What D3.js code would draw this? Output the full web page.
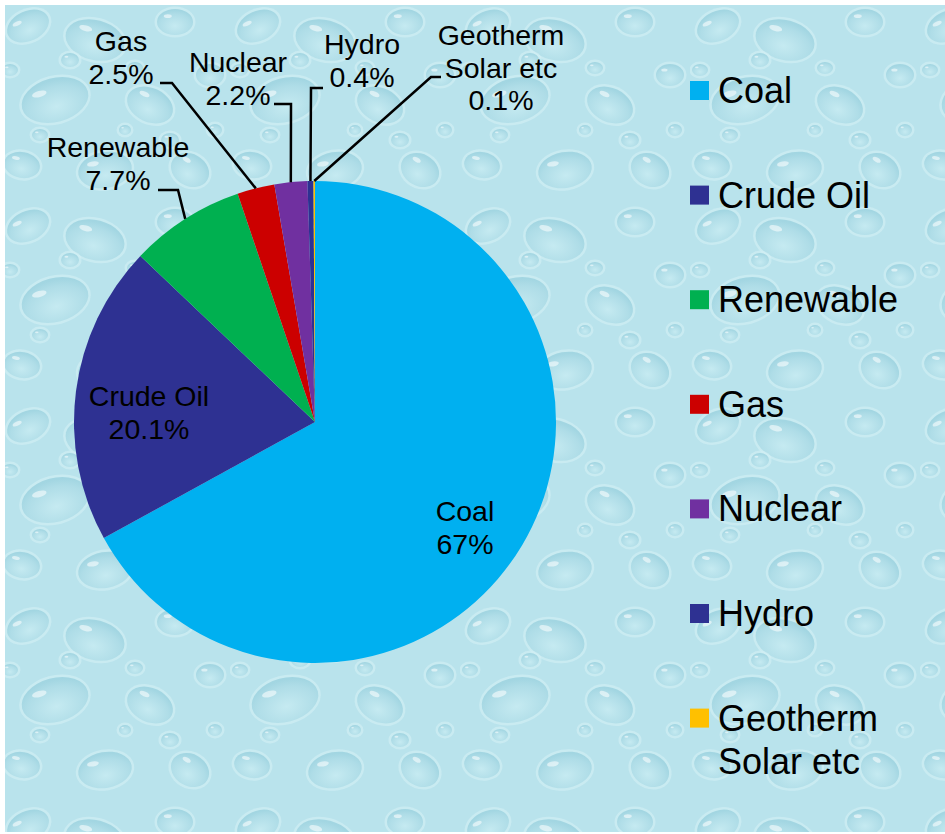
<!DOCTYPE html>
<html>
<head>
<meta charset="utf-8">
<script src="https://cdn.jsdelivr.net/npm/d3@7/dist/d3.min.js"></script>
<style>
  html, body { margin: 0; padding: 0; background: #fff; }
  svg { display: block; }
  text { font-family: "Liberation Sans", Arial, sans-serif; fill: #000; }
</style>
</head>
<body>
<svg id="chart"></svg>
<script>
// Energy share pie with leader labels and legend

const categories = ["Coal", "Crude Oil", "Renewable", "Gas", "Nuclear", "Hydro", "Geotherm Solar etc"];
const shares = [67, 20.1, 7.7, 2.5, 2.2, 0.4, 0.1];
const colors = ["#00b0f0", "#2e3192", "#00b050", "#cc0000", "#7030a0", "#2e3192", "#ffc000"];

// label layout: text lines, centre x, first baseline, optional leader (start, elbow)
const labelLayout = {
  "Coal": { lines: ["Coal"], x: 465, y: 521 },
  "Crude Oil": { lines: ["Crude Oil"], x: 149, y: 406 },
  "Renewable": { lines: ["Renewable"], x: 118, y: 157, leader: [[158, 190], [178, 190]] },
  "Gas": { lines: ["Gas"], x: 121, y: 51, leader: [[160, 83], [172, 83]] },
  "Nuclear": { lines: ["Nuclear"], x: 238, y: 72, leader: [[274, 104], [291, 104]] },
  "Hydro": { lines: ["Hydro"], x: 362, y: 54, leader: [[323, 88], [311, 88]] },
  "Geotherm Solar etc": { lines: ["Geotherm", "Solar etc"], x: 501, y: 45, leader: [[441, 77], [431, 77]] },
};

const width = 945;
const height = 834;
const cx = 315, cy = 422, radius = 241;

const svg = d3.select("#chart").attr("width", width).attr("height", height);

// ----- water-drop background -----
const defs = svg.append("defs");
const grad = defs.append("radialGradient").attr("id", "drop").attr("cx", "50%").attr("cy", "65%").attr("r", "60%");
grad.append("stop").attr("offset", "0%").attr("stop-color", "#c4eaf1");
grad.append("stop").attr("offset", "75%").attr("stop-color", "#a6d8e4");
grad.append("stop").attr("offset", "100%").attr("stop-color", "#96cfdd");

const tile = defs.append("pattern").attr("id", "drops").attr("patternUnits", "userSpaceOnUse")
  .attr("width", 230).attr("height", 200);
tile.append("rect").attr("width", 230).attr("height", 200).attr("fill", "#b9e3ec");
// drop shapes in the tile: x, y, rx, ry, rotation
const drops = [
  [28, 26, 22, 15, -25], [95, 40, 30, 20, 15], [175, 22, 18, 13, 0], [55, 100, 34, 22, -15],
  [150, 105, 24, 17, 25], [210, 75, 14, 11, 0], [22, 165, 18, 13, 10], [105, 170, 27, 18, -10],
  [190, 170, 20, 16, 30], [70, 60, 9, 7, 0], [135, 68, 8, 6, 0], [170, 140, 9, 7, 0], [40, 135, 8, 6, 0],
  [215, 130, 7, 6, 0], [125, 130, 6, 5, 0], [10, 70, 8, 6, 0]
];
drops.forEach(([x, y, rx, ry, rot]) => {
  const g = tile.append("g").attr("transform", `translate(${x},${y}) rotate(${rot})`);
  g.append("ellipse").attr("rx", rx + 2.5).attr("ry", ry + 2.5).attr("fill", "#d3f0f5").attr("opacity", 0.6);
  g.append("ellipse").attr("rx", rx).attr("ry", ry).attr("fill", "url(#drop)").attr("opacity", 0.75);
  g.append("ellipse").attr("cx", -rx * 0.4).attr("cy", -ry * 0.45).attr("rx", rx * 0.22).attr("ry", ry * 0.14)
    .attr("fill", "#fff").attr("opacity", 0.55);
});

svg.append("rect").attr("x", 5).attr("y", 5).attr("width", width - 5).attr("height", height - 7)
  .attr("fill", "url(#drops)");

// ----- pie -----
const data = categories.map((c, i) => ({ name: c, value: shares[i], color: colors[i] }));
const pie = d3.pie().sort(null).value((d) => d.value);
const arcs = pie(data);
const arc = d3.arc().innerRadius(0).outerRadius(radius);
const edgeArc = d3.arc().innerRadius(radius).outerRadius(radius);

const pieG = svg.append("g").attr("transform", `translate(${cx},${cy})`);
pieG.selectAll("path.slice")
  .data(arcs)
  .enter()
  .append("path")
  .attr("class", "slice")
  .attr("d", arc)
  .attr("fill", (d) => d.data.color);

// leader lines from label to slice midpoint on the rim
const leaderG = svg.append("g");
arcs.forEach((a) => {
  const lay = labelLayout[a.data.name];
  if (!lay.leader) return;
  const [px, py] = edgeArc.centroid(a);
  const pts = [...lay.leader, [px + cx, py + cy]];
  leaderG.append("path")
    .attr("d", d3.line()(pts))
    .attr("fill", "none")
    .attr("stroke", "#000")
    .attr("stroke-width", 2.5);
});

// data labels
const labelG = svg.append("g");
arcs.forEach((a) => {
  const lay = labelLayout[a.data.name];
  const lines = [...lay.lines, `${a.data.value}%`];
  const t = labelG.append("text")
    .attr("text-anchor", "middle")
    .attr("font-size", 28.5);
  lines.forEach((ln, k) => {
    t.append("tspan").attr("x", lay.x).attr("y", lay.y + k * 32.5).text(ln);
  });
});

// ----- legend -----
const legendG = svg.append("g").attr("transform", "translate(690,103)");
const legendStep = 104.6;
const legendItems = legendG.selectAll("g.item")
  .data(data)
  .enter()
  .append("g")
  .attr("class", "item")
  .attr("transform", (d, i) => `translate(0,${i * legendStep})`);

legendItems.append("rect")
  .attr("x", 0)
  .attr("y", -22)
  .attr("width", 19)
  .attr("height", 19)
  .attr("fill", (d) => d.color);

legendItems.append("text")
  .attr("font-size", 36)
  .each(function (d) {
    const words = d.name === "Geotherm Solar etc" ? ["Geotherm", "Solar etc"] : [d.name];
    words.forEach((w, k) => {
      d3.select(this).append("tspan").attr("x", 28).attr("y", k * 43).text(w);
    });
  });
</script>
</body>
</html>
